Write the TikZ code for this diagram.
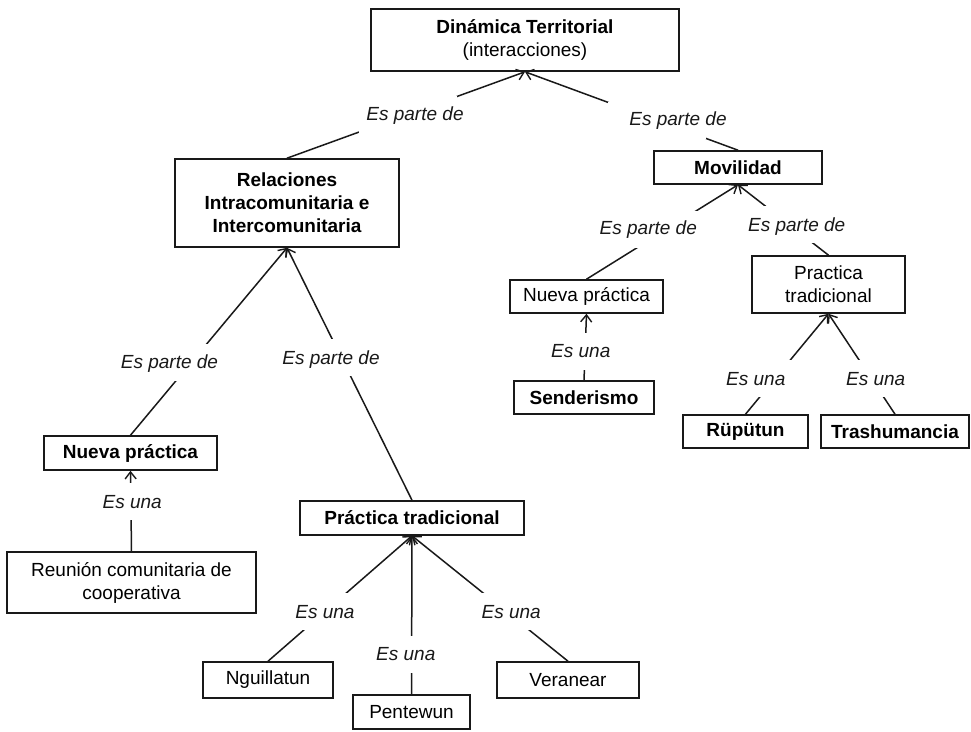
\documentclass[tikz,border=0pt]{standalone}
\usepackage{fontspec}
\setmainfont{Liberation Sans}
\usetikzlibrary{arrows.meta}
\begin{document}
\begin{tikzpicture}[x=1pt,y=-1pt,
  box/.style={draw=black!90, line width=1.6pt, inner sep=0pt, align=center,
    font=\fontsize{19}{23}\selectfont},
  conn/.style={line width=1.5pt, draw=black!90,
    -{Straight Barb[length=7pt,width=11pt,line width=1.4pt]}},
  gapw/.style={fill=white, inner sep=0pt, minimum width=98pt, minimum height=37pt},
  gapn/.style={fill=white, inner sep=0pt, minimum width=70pt, minimum height=37pt},
  lab/.style={inner sep=0pt, text height=13.6pt, text depth=4pt,
    font=\fontsize{19}{23}\selectfont\itshape, text=black!90}
]
\useasboundingbox (0,0) rectangle (971,731);

% boxes
\node[box, minimum width=308pt, minimum height=62pt] (top) at (525,40)
  {\textbf{Dinámica Territorial}\\(interacciones)};
\node[box, minimum width=224pt, minimum height=88pt, font=\fontsize{19}{23}\selectfont\bfseries] (rel) at (287,203)
  {Relaciones\\Intracomunitaria e\\Intercomunitaria};
\node[box, minimum width=168pt, minimum height=33pt, font=\fontsize{19}{23}\selectfont\bfseries] (mov) at (738,167.5) {Movilidad};
\node[box, minimum width=153pt, minimum height=33pt] (np2) at (586.5,296.5) {Nueva práctica};
\node[box, minimum width=153pt, minimum height=57pt] (pt2) at (828.5,284.5) {Practica\\tradicional};
\node[box, minimum width=140pt, minimum height=33pt, font=\fontsize{19}{23}\selectfont\bfseries] (send) at (584,397.5) {Senderismo};
\node[box, minimum width=125pt, minimum height=33pt, font=\fontsize{19}{23}\selectfont\bfseries] (rup) at (745.5,431.5) {Rüpütun};
\node[box, minimum width=148pt, minimum height=33pt, font=\fontsize{19}{23}\selectfont\bfseries] (tras) at (895,431.5) {Trashumancia};
\node[box, minimum width=173pt, minimum height=34pt, font=\fontsize{19}{23}\selectfont\bfseries] (np1) at (130.5,453) {Nueva práctica};
\node[box, minimum width=249pt, minimum height=61pt] (reu) at (131.5,582.5) {Reunión comunitaria de\\cooperativa};
\node[box, minimum width=224pt, minimum height=34pt, font=\fontsize{19}{23}\selectfont\bfseries] (pt1) at (412,518) {Práctica tradicional};
\node[box, minimum width=130pt, minimum height=36pt] (ngu) at (268,680) {Nguillatun};
\node[box, minimum width=117pt, minimum height=34pt] (pen) at (411.5,712) {Pentewun};
\node[box, minimum width=142pt, minimum height=36pt] (ver) at (568,680) {Veranear};

% connectors with gaps
\draw[conn] (rel.north) -- node[gapw, pos=0.507] (g1) {} (top.south);
\draw[conn] (mov.north) -- node[gapw, pos=0.381] (g2) {} (top.south);
\draw[conn] (np1.north) -- node[gapw, pos=0.386] (g3) {} (rel.south);
\draw[conn] (pt1.north) -- node[gapw, pos=0.565] (g4) {} (rel.south);
\draw[conn] (np2.north) -- node[gapw, pos=0.531] (g5) {} (mov.south);
\draw[conn] (pt2.north) -- node[gapw, pos=0.43] (g6) {} (mov.south);
\draw[conn] (send.north) -- node[gapn, pos=0.437] (g7) {} (np2.south);
\draw[conn] (rup.north) -- node[gapn, pos=0.36] (g8) {} (pt2.south);
\draw[conn] (tras.north) -- node[gapn, pos=0.36] (g9) {} (pt2.south);
\draw[conn] (reu.north) -- node[gapn, pos=0.624] (g10) {} (np1.south);
\draw[conn] (ngu.north) -- node[gapn, pos=0.40] (g11) {} (pt1.south);
\draw[conn] (pen.north) -- node[gapn, pos=0.2525] (g12) {} (pt1.south);
\draw[conn] (ver.north) -- node[gapn, pos=0.398] (g13) {} (pt1.south);

% labels
\node[lab] (l1) at (415,115.7) {Es parte de};
\node[lab] (l2) at (678,120.8) {Es parte de};
\node[lab] (l3) at (169.5,363.7) {Es parte de};
\node[lab] (l4) at (331,359.5) {Es parte de};
\node[lab] (l5) at (648.3,229.7) {Es parte de};
\node[lab] (l6) at (796.7,226.7) {Es parte de};
\node[lab] (l7) at (580.8,352.3) {Es una};
\node[lab] (l8) at (755.8,380.3) {Es una};
\node[lab] (l9) at (875.7,380.3) {Es una};
\node[lab] (l10) at (132.2,503.3) {Es una};
\node[lab] (l11) at (325,613.3) {Es una};
\node[lab] (l12) at (405.8,655.8) {Es una};
\node[lab] (l13) at (511.2,613.2) {Es una};
\end{tikzpicture}
\end{document}
